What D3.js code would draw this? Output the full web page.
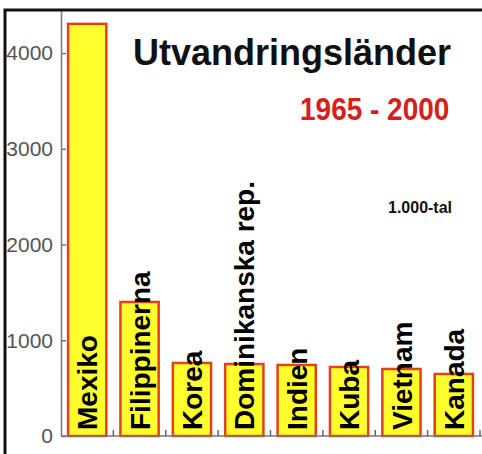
<!DOCTYPE html>
<html>
<head>
<meta charset="utf-8">
<script src="https://cdn.jsdelivr.net/npm/d3@7"></script>
<style>
  body { margin:0; background:#fff; }
  text { font-family: "Liberation Sans", Arial, sans-serif; }
</style>
</head>
<body>
<div id="vis"></div>
<script>
// data - emigration countries, in thousands
var countries = ["Mexiko","Filippinerna","Korea","Dominikanska rep.","Indien","Kuba","Vietnam","Kanada"]
var values = [4305,1400,763,752,742,721,700,648]
var yTicks = [0,1000,2000,3000,4000]

var width = 482, height = 454

var svg = d3.select("#vis").append("svg")
    .attr("width",width).attr("height",height)

var x = d3.scaleBand().domain(countries).range([61,480])
    .paddingInner(0.27).paddingOuter(0.135)
var y = d3.scaleLinear().domain([0,4450]).range([436,10])

//bars
svg.selectAll("rect.bar").data(countries)
    .enter().append("rect").attr("class","bar")
    .attr("x",function(d){ return x(d) })
    .attr("width",x.bandwidth())
    .attr("y",function(d,i){ return y(values[i]) })
    .attr("height",function(d,i){ return y(0)-y(values[i]) })
    .attr("fill","#ffff2e")
    .attr("stroke","#e0421a")
    .attr("stroke-width",2.5)

//bar labels
svg.selectAll("text.lab").data(countries)
    .enter().append("text").attr("class","lab")
    .attr("transform",function(d){ return "translate("+(x(d)+x.bandwidth()/2)+",430) rotate(-90)" })
    .attr("dy","0.36em")
    .attr("font-size",28).attr("font-weight","bold")
    .attr("fill","#000")
    .text(function(d){ return d })

//y axis
var yAxis = d3.axisLeft(y).tickValues(yTicks).tickFormat(d3.format("d"))
    .tickSizeInner(-5).tickSizeOuter(0).tickPadding(8)
var ga = svg.append("g").attr("transform","translate(61,0)").call(yAxis)
ga.select(".domain").attr("stroke","#777").attr("stroke-width",1.5)
ga.selectAll(".tick line").attr("stroke","#777").attr("stroke-width",1.5)
ga.selectAll(".tick text").attr("font-size",21).attr("fill","#555")
    .style("font-family","'Liberation Sans', Arial, sans-serif")

//x baseline + category ticks
svg.append("line").attr("x1",61).attr("x2",482).attr("y1",y(0)).attr("y2",y(0))
    .attr("stroke","#777").attr("stroke-width",1.5)
svg.selectAll("line.xt").data(countries)
    .enter().append("line").attr("class","xt")
    .attr("x1",function(d){ return x(d)+x.bandwidth()+x.step()*x.paddingInner()/2 })
    .attr("x2",function(d){ return x(d)+x.bandwidth()+x.step()*x.paddingInner()/2 })
    .attr("y1",y(0)-6).attr("y2",y(0))
    .attr("stroke","#666").attr("stroke-width",1.5)

//titles
svg.append("text").attr("x",133).attr("y",65)
    .attr("font-size",36).attr("font-weight","bold").attr("fill","#111")
    .text("Utvandringsländer")
svg.append("text").attr("transform","translate(300,120) scale(1,1.15)")
    .attr("font-size",28).attr("font-weight","bold").attr("fill","#d62020")
    .text("1965 - 2000")
svg.append("text").attr("x",388).attr("y",213)
    .attr("font-size",16).attr("font-weight","bold").attr("fill","#111")
    .text("1.000-tal")

//frame
svg.append("path").attr("d","M5,454V10H482")
    .attr("fill","none").attr("stroke","#111").attr("stroke-width",3)
</script>
</body>
</html>
